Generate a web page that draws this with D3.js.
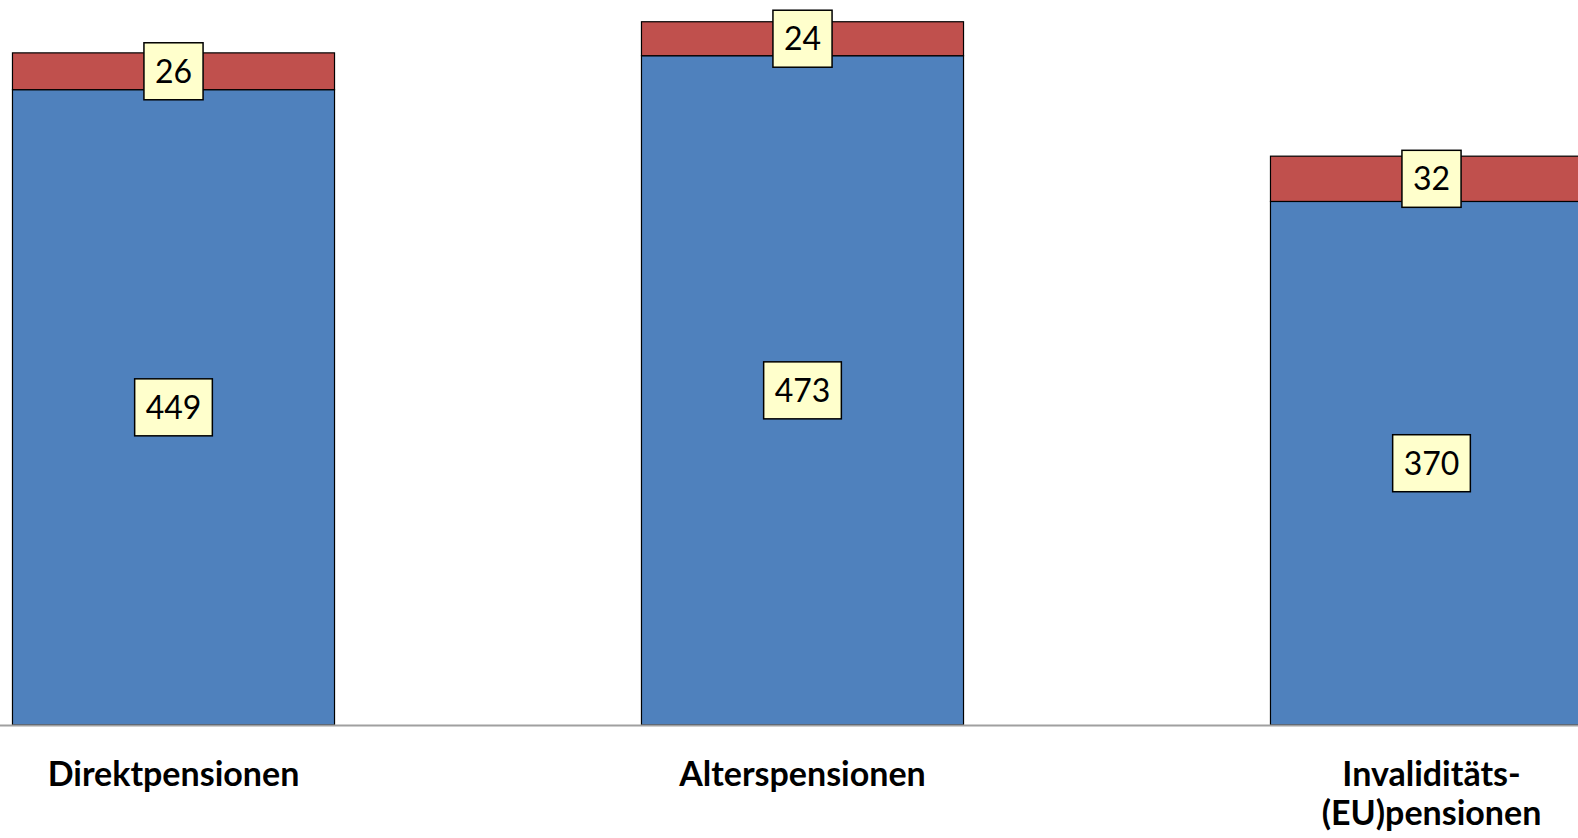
<!DOCTYPE html>
<html lang="de">
<head>
<meta charset="utf-8">
<script src="https://cdnjs.cloudflare.com/ajax/libs/d3/7.8.5/d3.min.js"></script>
<style>
  html, body { margin: 0; padding: 0; background: #fff; }
  svg { display: block; }
  .catlabel { font-family: Lato, "Open Sans", sans-serif; font-weight: bold; font-size: 34px; fill: #000; }
  .vallabel { font-family: Lato, "Open Sans", sans-serif; font-size: 32px; fill: #000; }
</style>
</head>
<body>
<svg width="1578" height="838"></svg>
<script>
// daten
var categories = ["Direktpensionen", "Alterspensionen", "Invaliditäts-\n(EU)pensionen"];
var seriesBlue = [449, 473, 370];
var seriesRed = [26, 24, 32];
var yMax = 500;

var svg = d3.select("svg"),
    width = +svg.attr("width"),
    height = +svg.attr("height");

var baseY = 725;

var x = d3.scaleBand()
    .domain(categories)
    .range([-141, 1746])
    .paddingInner(0.488)
    .paddingOuter(0.244);

var y = d3.scaleLinear()
    .domain([0, yMax])
    .range([baseY, baseY - 707.5]);

var colors = { blue: "#4F81BD", red: "#C0504D" };

var stacked = categories.map(function (c, i) {
    return [
        { cat: c, y0: 0, y1: seriesBlue[i], v: seriesBlue[i], color: colors.blue },
        { cat: c, y0: seriesBlue[i], y1: seriesBlue[i] + seriesRed[i], v: seriesRed[i], color: colors.red }
    ];
});
var segs = [].concat.apply([], stacked);

var g = svg.append("g");

g.selectAll(".bar")
    .data(segs)
    .enter()
    .append("rect")
    .attr("class", "bar")
    .attr("x", function (d) { return x(d.cat); })
    .attr("width", x.bandwidth())
    .attr("y", function (d) { return y(d.y1); })
    .attr("height", function (d) { return y(d.y0) - y(d.y1); })
    .attr("fill", function (d) { return d.color; })
    .attr("stroke", "#000")
    .attr("stroke-width", 1.2);

// grundlinie
svg.append("line")
    .attr("x1", 0).attr("x2", width)
    .attr("y1", baseY + 0.5).attr("y2", baseY + 0.5)
    .attr("stroke", "#a0a0a0")
    .attr("stroke-width", 2);

// wertelabels
var lab = g.selectAll(".lab")
    .data(segs)
    .enter()
    .append("g")
    .attr("class", "lab")
    .attr("transform", function (d) {
        var cx = x(d.cat) + x.bandwidth() / 2;
        var cy = (y(d.y0) + y(d.y1)) / 2;
        return "translate(" + cx + "," + cy + ")";
    });

lab.append("text")
    .attr("class", "vallabel")
    .attr("text-anchor", "middle")
    .attr("dy", "0.36em")
    .text(function (d) { return d.v; });

lab.each(function () {
    var t = d3.select(this).select("text");
    var w = t.node().getComputedTextLength() + 22;
    var h = 57;
    d3.select(this).insert("rect", "text")
        .attr("x", -w / 2).attr("y", -h / 2)
        .attr("width", w).attr("height", h)
        .attr("fill", "#FFFFCC")
        .attr("stroke", "#000")
        .attr("stroke-width", 1.5);
});

// kategorien
var cat = svg.selectAll(".catlabel")
    .data(categories)
    .enter()
    .append("text")
    .attr("class", "catlabel")
    .attr("text-anchor", "middle")
    .attr("transform", function (d) {
        var cx = x(d) + x.bandwidth() / 2;
        return "translate(" + cx + ",786)";
    });

cat.selectAll("tspan")
    .data(function (d) { return d.split("\n"); })
    .enter()
    .append("tspan")
    .attr("x", 0)
    .attr("dy", function (d, i) { return i === 0 ? 0 : 39; })
    .text(function (d) { return d; });
</script>
</body>
</html>
